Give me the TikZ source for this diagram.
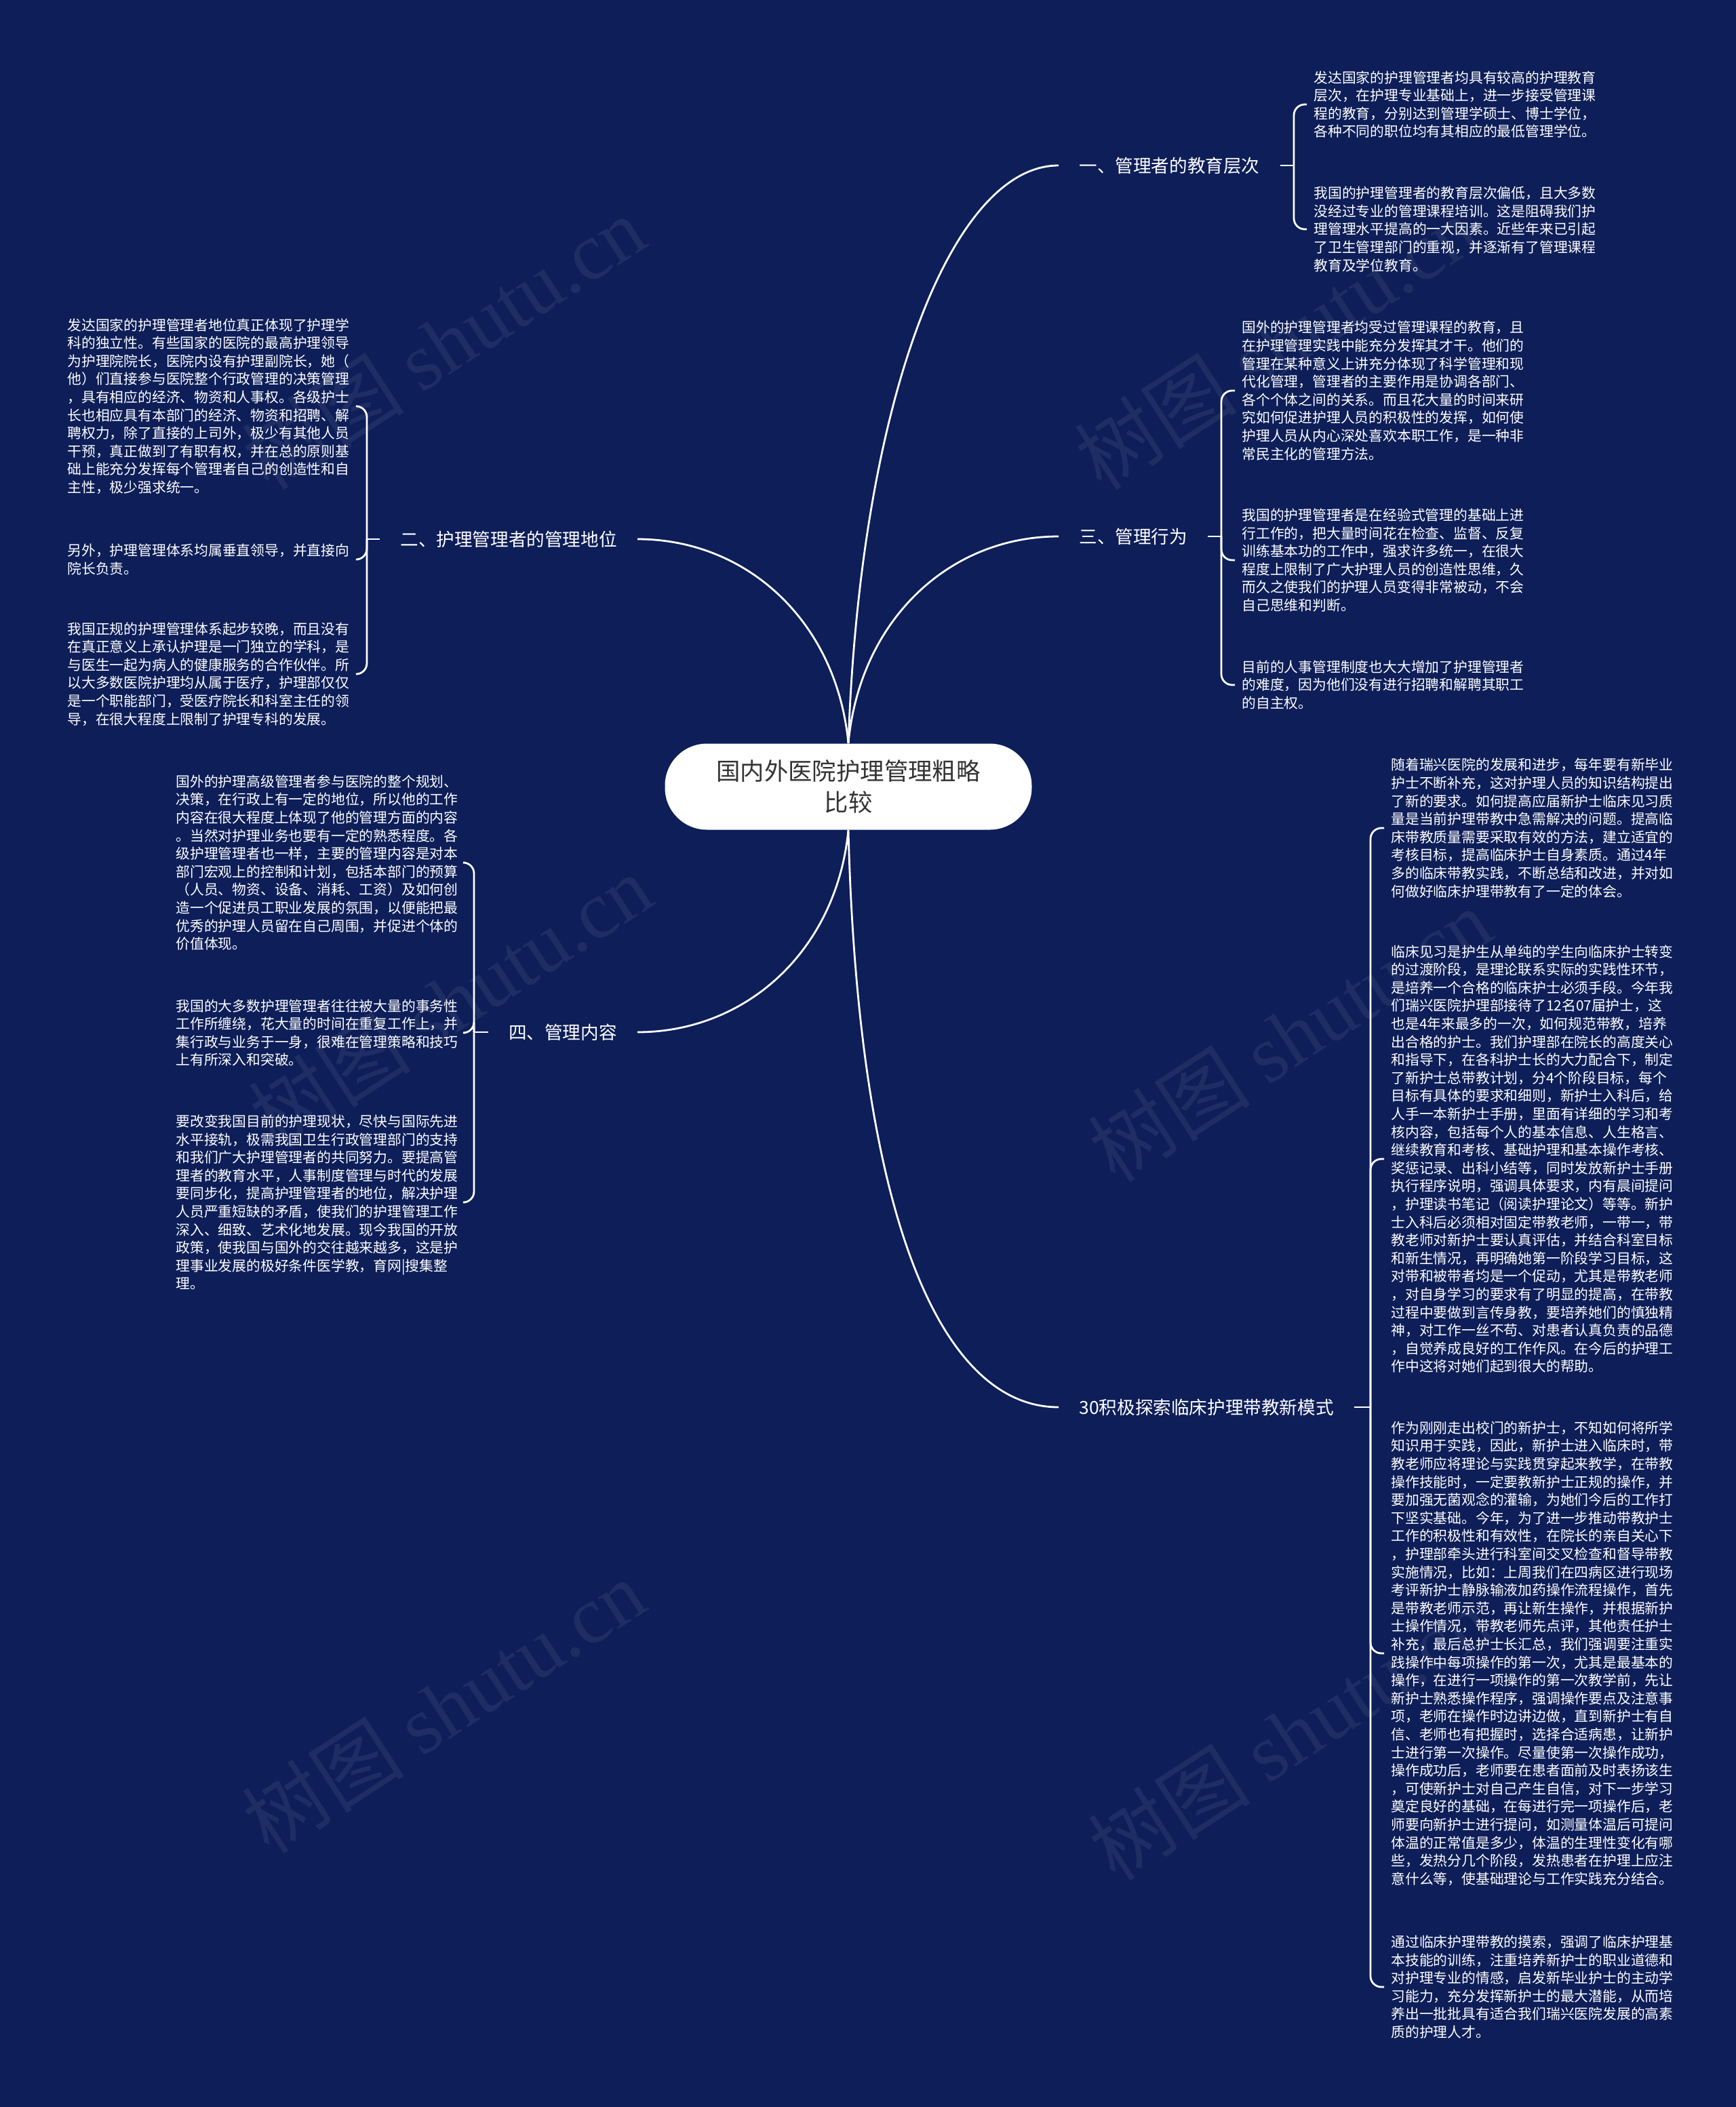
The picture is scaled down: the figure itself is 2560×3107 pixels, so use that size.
\documentclass[tikz,border=0pt]{standalone}
\usepackage{fontspec}
\setmainfont{Noto Sans CJK SC}
\newfontfamily\wmlatin{Liberation Serif}
\definecolor{bg}{RGB}{13,30,88}
\definecolor{roottext}{RGB}{51,51,51}
\begin{document}
\begin{tikzpicture}[x=0.5pt,y=-0.5pt,
  conn/.style={draw=white, line width=1.4pt},
  bracket/.style={conn, rounded corners=8pt},
  rootnode/.style={fill=white, rounded corners=31pt, minimum width=270.5pt, minimum height=63.5pt, text=roottext, font=\fontsize{17.7pt}{23pt}\selectfont, align=center, inner sep=0pt},
  branch/.style={text=white, font=\fontsize{13.3pt}{16pt}\selectfont, inner xsep=15pt, inner ysep=4pt},
  leaf/.style={text=white, font=\fontsize{10.4pt}{13.3pt}\selectfont, align=left, inner xsep=5pt, inner ysep=3pt},
  wm/.style={text=white, opacity=0.07, font=\fontsize{60pt}{60pt}\selectfont, rotate=33}
]
\fill[bg] (0,0) rectangle (2560,3107);
\useasboundingbox (0,0) rectangle (2560,3107);

% watermarks
\node[wm] (w1) at (654,505) {树图 {\wmlatin shutu.cn}};
\node[wm] (w2) at (1882,505) {树图 {\wmlatin shutu.cn}};
\node[wm] (w3) at (664,1476) {树图 {\wmlatin shutu.cn}};
\node[wm] (w4) at (1902,1526) {树图 {\wmlatin shutu.cn}};
\node[wm] (w5) at (654,2516) {树图 {\wmlatin shutu.cn}};
\node[wm] (w6) at (1902,2556) {树图 {\wmlatin shutu.cn}};

% root
\node[rootnode] (root) at (1251,1160) {国内外医院护理管理粗略\\比较};

% branches
\node[branch, anchor=west] (b1) at (1561,244) {一、管理者的教育层次};
\node[branch, anchor=west] (b3) at (1561,791) {三、管理行为};
\node[branch, anchor=west] (b5) at (1561,2075) {30积极探索临床护理带教新模式};
\node[branch, anchor=east] (b2) at (940,795) {二、护理管理者的管理地位};
\node[branch, anchor=east] (b4) at (940,1522) {四、管理内容};

% bracket points
\coordinate (s1) at (1908,244);
\coordinate (s3) at (1801,791);
\coordinate (s5) at (2021,2075);
\coordinate (s2) at (541,795);
\coordinate (s4) at (699,1522);

% leaves of 一
\node[leaf, anchor=west] (l1a) at (1927,154) {发达国家的护理管理者均具有较高的护理教育\\层次，在护理专业基础上，进一步接受管理课\\程的教育，分别达到管理学硕士、博士学位，\\各种不同的职位均有其相应的最低管理学位。};
\node[leaf, anchor=west] (l1b) at (1927,338) {我国的护理管理者的教育层次偏低，且大多数\\没经过专业的管理课程培训。这是阻碍我们护\\理管理水平提高的一大因素。近些年来已引起\\了卫生管理部门的重视，并逐渐有了管理课程\\教育及学位教育。};

% leaves of 三
\node[leaf, anchor=west] (l3a) at (1821,576) {国外的护理管理者均受过管理课程的教育，且\\在护理管理实践中能充分发挥其才干。他们的\\管理在某种意义上讲充分体现了科学管理和现\\代化管理，管理者的主要作用是协调各部门、\\各个个体之间的关系。而且花大量的时间来研\\究如何促进护理人员的积极性的发挥，如何使\\护理人员从内心深处喜欢本职工作，是一种非\\常民主化的管理方法。};
\node[leaf, anchor=west] (l3b) at (1821,826) {我国的护理管理者是在经验式管理的基础上进\\行工作的，把大量时间花在检查、监督、反复\\训练基本功的工作中，强求许多统一，在很大\\程度上限制了广大护理人员的创造性思维，久\\而久之使我们的护理人员变得非常被动，不会\\自己思维和判断。};
\node[leaf, anchor=west] (l3c) at (1821,1010) {目前的人事管理制度也大大增加了护理管理者\\的难度，因为他们没有进行招聘和解聘其职工\\的自主权。};

% leaves of 二
\node[leaf, anchor=west] (l2a) at (89,599) {发达国家的护理管理者地位真正体现了护理学\\科的独立性。有些国家的医院的最高护理领导\\为护理院院长，医院内设有护理副院长，她（\\他）们直接参与医院整个行政管理的决策管理\\，具有相应的经济、物资和人事权。各级护士\\长也相应具有本部门的经济、物资和招聘、解\\聘权力，除了直接的上司外，极少有其他人员\\干预，真正做到了有职有权，并在总的原则基\\础上能充分发挥每个管理者自己的创造性和自\\主性，极少强求统一。};
\node[leaf, anchor=west] (l2b) at (89,825) {另外，护理管理体系均属垂直领导，并直接向\\院长负责。};
\node[leaf, anchor=west] (l2c) at (89,994) {我国正规的护理管理体系起步较晚，而且没有\\在真正意义上承认护理是一门独立的学科，是\\与医生一起为病人的健康服务的合作伙伴。所\\以大多数医院护理均从属于医疗，护理部仅仅\\是一个职能部门，受医疗院长和科室主任的领\\导，在很大程度上限制了护理专科的发展。};

% leaves of 四
\node[leaf, anchor=west] (l4a) at (249,1272) {国外的护理高级管理者参与医院的整个规划、\\决策，在行政上有一定的地位，所以他的工作\\内容在很大程度上体现了他的管理方面的内容\\。当然对护理业务也要有一定的熟悉程度。各\\级护理管理者也一样，主要的管理内容是对本\\部门宏观上的控制和计划，包括本部门的预算\\（人员、物资、设备、消耗、工资）及如何创\\造一个促进员工职业发展的氛围，以便能把最\\优秀的护理人员留在自己周围，并促进个体的\\价值体现。};
\node[leaf, anchor=west] (l4b) at (249,1523) {我国的大多数护理管理者往往被大量的事务性\\工作所缠绕，花大量的时间在重复工作上，并\\集行政与业务于一身，很难在管理策略和技巧\\上有所深入和突破。};
\node[leaf, anchor=west] (l4c) at (249,1773) {要改变我国目前的护理现状，尽快与国际先进\\水平接轨，极需我国卫生行政管理部门的支持\\和我们广大护理管理者的共同努力。要提高管\\理者的教育水平，人事制度管理与时代的发展\\要同步化，提高护理管理者的地位，解决护理\\人员严重短缺的矛盾，使我们的护理管理工作\\深入、细致、艺术化地发展。现今我国的开放\\政策，使我国与国外的交往越来越多，这是护\\理事业发展的极好条件医学教，育网|搜集整\\理。};

% leaves of 30
\node[leaf, anchor=west] (l5a) at (2041,1221) {随着瑞兴医院的发展和进步，每年要有新毕业\\护士不断补充，这对护理人员的知识结构提出\\了新的要求。如何提高应届新护士临床见习质\\量是当前护理带教中急需解决的问题。提高临\\床带教质量需要采取有效的方法，建立适宜的\\考核目标，提高临床护士自身素质。通过4年\\多的临床带教实践，不断总结和改进，并对如\\何做好临床护理带教有了一定的体会。};
\node[leaf, anchor=west] (l5b) at (2041,1709) {临床见习是护生从单纯的学生向临床护士转变\\的过渡阶段，是理论联系实际的实践性环节，\\是培养一个合格的临床护士必须手段。今年我\\们瑞兴医院护理部接待了12名07届护士，这\\也是4年来最多的一次，如何规范带教，培养\\出合格的护士。我们护理部在院长的高度关心\\和指导下，在各科护士长的大力配合下，制定\\了新护士总带教计划，分4个阶段目标，每个\\目标有具体的要求和细则，新护士入科后，给\\人手一本新护士手册，里面有详细的学习和考\\核内容，包括每个人的基本信息、人生格言、\\继续教育和考核、基础护理和基本操作考核、\\奖惩记录、出科小结等，同时发放新护士手册\\执行程序说明，强调具体要求，内有晨间提问\\，护理读书笔记（阅读护理论文）等等。新护\\士入科后必须相对固定带教老师，一带一，带\\教老师对新护士要认真评估，并结合科室目标\\和新生情况，再明确她第一阶段学习目标，这\\对带和被带者均是一个促动，尤其是带教老师\\，对自身学习的要求有了明显的提高，在带教\\过程中要做到言传身教，要培养她们的慎独精\\神，对工作一丝不苟、对患者认真负责的品德\\，自觉养成良好的工作作风。在今后的护理工\\作中这将对她们起到很大的帮助。};
\node[leaf, anchor=west] (l5c) at (2041,2438) {作为刚刚走出校门的新护士，不知如何将所学\\知识用于实践，因此，新护士进入临床时，带\\教老师应将理论与实践贯穿起来教学，在带教\\操作技能时，一定要教新护士正规的操作，并\\要加强无菌观念的灌输，为她们今后的工作打\\下坚实基础。今年，为了进一步推动带教护士\\工作的积极性和有效性，在院长的亲自关心下\\，护理部牵头进行科室间交叉检查和督导带教\\实施情况，比如：上周我们在四病区进行现场\\考评新护士静脉输液加药操作流程操作，首先\\是带教老师示范，再让新生操作，并根据新护\\士操作情况，带教老师先点评，其他责任护士\\补充，最后总护士长汇总，我们强调要注重实\\践操作中每项操作的第一次，尤其是最基本的\\操作，在进行一项操作的第一次教学前，先让\\新护士熟悉操作程序，强调操作要点及注意事\\项，老师在操作时边讲边做，直到新护士有自\\信、老师也有把握时，选择合适病患，让新护\\士进行第一次操作。尽量使第一次操作成功，\\操作成功后，老师要在患者面前及时表扬该生\\，可使新护士对自己产生自信，对下一步学习\\奠定良好的基础，在每进行完一项操作后，老\\师要向新护士进行提问，如测量体温后可提问\\体温的正常值是多少，体温的生理性变化有哪\\些，发热分几个阶段，发热患者在护理上应注\\意什么等，使基础理论与工作实践充分结合。};
\node[leaf, anchor=west] (l5d) at (2041,2930) {通过临床护理带教的摸索，强调了临床护理基\\本技能的训练，注重培养新护士的职业道德和\\对护理专业的情感，启发新毕业护士的主动学\\习能力，充分发挥新护士的最大潜能，从而培\\养出一批批具有适合我们瑞兴医院发展的高素\\质的护理人才。};

% main curves
\draw[conn] (root.north) .. controls (1268,602) and (1400,244) .. (b1.west);
\draw[conn] (root.north) .. controls (1268,914) and (1400,791) .. (b3.west);
\draw[conn] (root.north) .. controls (1234,917) and (1102,795) .. (b2.east);
\draw[conn] (root.south) .. controls (1234,1400) and (1102,1522) .. (b4.east);
\draw[conn] (root.south) .. controls (1266,1803) and (1390,2075) .. (b5.west);

% stubs
\draw[conn] (b1.east) -- (s1);
\draw[conn] (b3.east) -- (s3);
\draw[conn] (b5.east) -- (s5);
\draw[conn] (b2.west) -- (s2);
\draw[conn] (b4.west) -- (s4);

% brackets
\draw[bracket] (s1) |- (l1a.west);
\draw[bracket] (s1) |- (l1b.west);
\draw[bracket] (s3) |- (l3a.west);
\draw[bracket] (s3) |- (l3b.west);
\draw[bracket] (s3) |- (l3c.west);
\draw[bracket] (s2) |- (l2a.east);
\draw[bracket] (s2) |- (l2b.east);
\draw[bracket] (s2) |- (l2c.east);
\draw[bracket] (s4) |- (l4a.east);
\draw[bracket] (s4) |- (l4b.east);
\draw[bracket] (s4) |- (l4c.east);
\draw[bracket] (s5) |- (l5a.west);
\draw[bracket] (s5) |- (l5b.west);
\draw[bracket] (s5) |- (l5c.west);
\draw[bracket] (s5) |- (l5d.west);
\end{tikzpicture}
\end{document}
